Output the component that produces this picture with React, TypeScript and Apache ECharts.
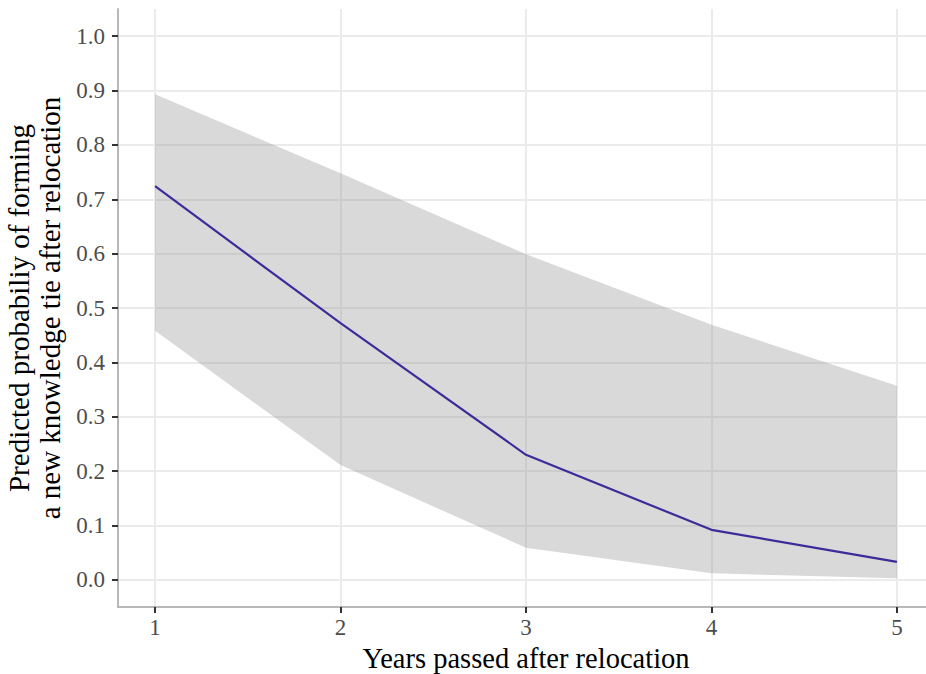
import React, { useEffect, useRef } from "react";
import * as echarts from "echarts";

const years = [1, 2, 3, 4, 5];
const predicted = [0.724, 0.472, 0.23, 0.092, 0.033];
const upper = [0.893, 0.748, 0.599, 0.469, 0.357];
const lower = [0.458, 0.211, 0.059, 0.012, 0.003];
const xTicks = [1, 2, 3, 4, 5];
const yTicks = [0, 0.1, 0.2, 0.3, 0.4, 0.5, 0.6, 0.7, 0.8, 0.9, 1.0];
const yMin = -0.05;
const yMax = 1.05;

export default function App() {
  const ref = useRef<HTMLDivElement>(null);
  useEffect(() => {
    document.body.style.margin = "0";
    const chart = echarts.init(ref.current!, null, { renderer: "svg" });
    const font = "'Liberation Serif', serif";
    chart.setOption({
      animation: false,
      grid: { left: 118, right: -8, top: 9, bottom: 67, containLabel: false, outerBoundsMode: "none" },
      xAxis: {
        type: "value",
        min: 0.8,
        max: 5.2,
        name: "Years passed after relocation",
        nameLocation: "middle",
        nameGap: 33,
        nameTextStyle: { fontFamily: font, fontSize: 28.5, color: "#000" },
        axisLine: { show: true, onZero: false, lineStyle: { color: "#b8b8b8", width: 2 } },
        axisTick: { show: true, length: 6, customValues: xTicks, lineStyle: { color: "#333333", width: 2 } },
        axisLabel: { customValues: xTicks, margin: 9, fontFamily: font, fontSize: 23, color: "#4d4d4d", formatter: (v: number) => String(v) },
        splitLine: { show: true, lineStyle: { color: "#ebebeb", width: 2 } },
      },
      yAxis: {
        type: "value",
        min: yMin,
        max: yMax,
        name: "Predicted probabiliy of forming\na new knowledge tie after relocation",
        nameLocation: "middle",
        nameGap: 44,
        nameTextStyle: { fontFamily: font, fontSize: 29, color: "#000", lineHeight: 31, align: "center" },
        axisLine: { show: true, onZero: false, lineStyle: { color: "#b8b8b8", width: 2 } },
        axisTick: { show: true, length: 6, customValues: yTicks, lineStyle: { color: "#333333", width: 2 } },
        axisLabel: { customValues: yTicks, margin: 13, fontFamily: font, fontSize: 23, color: "#4d4d4d", formatter: (v: number) => v.toFixed(1) },
        splitLine: { show: true, lineStyle: { color: "#ebebeb", width: 2 } },
      },
      series: [
        {
          type: "custom",
          data: [0],
          z: 2,
          renderItem: (params: any, api: any) => {
            const pts: number[][] = [];
            for (let i = 0; i < years.length; i++) pts.push(api.coord([years[i], upper[i]]));
            for (let i = years.length - 1; i >= 0; i--) pts.push(api.coord([years[i], lower[i]]));
            return {
              type: "polygon",
              shape: { points: pts },
              style: { fill: "#999999", opacity: 0.37 },
            };
          },
        },
        {
          type: "line",
          data: years.map((x, i) => [x, predicted[i]]),
          lineStyle: { color: "#3d2b99", width: 2.2 },
          showSymbol: false,
          symbol: "none",
          z: 3,
        },
      ],
    });
    return () => chart.dispose();
  }, []);
  return <div ref={ref} style={{ width: 926, height: 674 }} />;
}
